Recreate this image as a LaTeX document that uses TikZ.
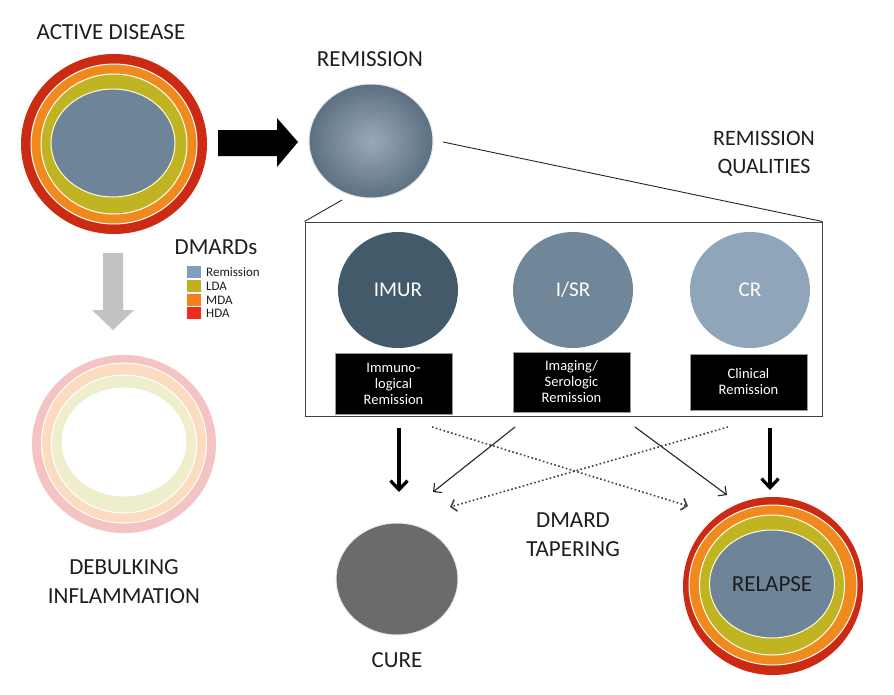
\documentclass[tikz,border=0pt]{standalone}
\usepackage{fontspec}
\setmainfont{Carlito}
\usetikzlibrary{shapes.geometric,arrows.meta}
\definecolor{hdared}{HTML}{CC2A12}
\definecolor{mdaor}{HTML}{F08A1E}
\definecolor{ldaol}{HTML}{C0B423}
\definecolor{remblue}{HTML}{6D8499}
\definecolor{imurc}{HTML}{435A6B}
\definecolor{isrc}{HTML}{6F8799}
\definecolor{crc}{HTML}{8FA6BA}
\definecolor{curec}{HTML}{6B6B6B}
\definecolor{legrem}{HTML}{7F9FBF}
\definecolor{legl}{HTML}{C0B020}
\definecolor{legm}{HTML}{F58020}
\definecolor{legh}{HTML}{EE2A1A}
\definecolor{dpink}{HTML}{F4C4C4}
\definecolor{dpeach}{HTML}{FCDCC0}
\definecolor{dyel}{HTML}{EEEECC}
\definecolor{txt}{HTML}{1E1E1E}
\definecolor{graya}{HTML}{C2C2C2}
\begin{document}
\begin{tikzpicture}[x=1pt,y=-1pt,
  disc/.style={ellipse,inner sep=0pt,outer sep=0pt},
  ring/.style={disc,draw=white,line width=1pt},
  big/.style={font=\fontsize{23}{29}\selectfont,text=txt,align=center},
  qlabel/.style={fill=black,draw=imurc!60,line width=0.8pt,text=white,align=center,
     inner sep=0pt,font=\fontsize{14.5}{16}\selectfont},
  leg/.style={minimum width=14,minimum height=12,inner sep=0pt},
  legtxt/.style={anchor=west,inner sep=0pt,font=\fontsize{13}{14}\selectfont,text=txt},
  thickarr/.style={line width=3.2pt,-{Straight Barb[length=9pt,width=17pt]}},
  thinarr/.style={line width=1.1pt,black!85,-{Straight Barb[length=6pt,width=12pt]}},
  dotarr/.style={line width=1.6pt,black!75,dash pattern=on 1.6pt off 2.4pt,
     -{Straight Barb[length=5pt,width=12pt]}}]
\useasboundingbox[fill=white] (0,0) rectangle (894,694);

% ACTIVE DISEASE
\node[big] (tad) at (111,32) {ACTIVE DISEASE};
\node[disc,fill=hdared,minimum width=186,minimum height=180] (adR) at (114,144) {};
\node[ring,fill=mdaor,minimum width=166,minimum height=160] (adO) at (114,144) {};
\node[ring,fill=ldaol,minimum width=146,minimum height=140] (adL) at (114,144) {};
\node[ring,fill=remblue,draw=white!85!yellow,minimum width=124,minimum height=108] (adB) at (113,143) {};

% black block arrow
\fill[black] (218,130) -- (277,130) -- (277,118) -- (298,142) -- (277,167) -- (277,156) -- (218,156) -- cycle;

% REMISSION
\node[big] (trem) at (370,59) {REMISSION};
\node[disc,shade,inner color=remblue!70!white,outer color=remblue!85!black,draw=white!80!gray,line width=1pt,
  minimum width=124,minimum height=114] (rem) at (371,141) {};

\node[big,font=\fontsize{22}{28}\selectfont] (tqual) at (764,154) {REMISSION\\QUALITIES};

% qualities box
\node[draw=black!75,line width=1pt,minimum width=517,minimum height=194,inner sep=0pt] (qbox) at (563.5,319) {};
\coordinate (remR) at (443,142);
\coordinate (remB) at (342,200);
\draw[line width=0.9pt,black!85] (remR) -- (qbox.north east);
\draw[line width=0.9pt,black!85] (remB) -- (qbox.north west);

\node[disc,fill=imurc,minimum width=120,minimum height=116,text=white,font=\fontsize{21}{24}\selectfont] (imur) at (398,290) {IMUR};
\node[disc,fill=isrc,minimum width=120,minimum height=116,text=white,font=\fontsize{21}{24}\selectfont] (isr) at (573,290) {I/SR};
\node[disc,fill=crc,minimum width=120,minimum height=116,text=white,font=\fontsize{21}{24}\selectfont] (cr) at (750,290) {CR};

\node[qlabel,minimum width=117,minimum height=61] (limur) at (393.5,383.5) {Immuno-\\logical\\Remission};
\node[qlabel,minimum width=117,minimum height=60] (lisr) at (571.5,382) {Imaging/\\Serologic\\Remission};
\node[qlabel,minimum width=117,minimum height=56] (lcr) at (748.5,382) {Clinical\\Remission};

% DMARDs legend
\node[big] (tdm) at (216,247) {DMARDs};
\node[leg,fill=legrem] (l1) at (194,272) {};
\node[leg,fill=legl] (l2) at (194,286) {};
\node[leg,fill=legm] (l3) at (194,300) {};
\node[leg,fill=legh] (l4) at (194,313) {};
\node[legtxt] (t1) at (206,272) {Remission};
\node[legtxt] (t2) at (206,286) {LDA};
\node[legtxt] (t3) at (206,300) {MDA};
\node[legtxt] (t4) at (206,313) {HDA};

% gray arrow
\fill[graya] (103,253) -- (123,253) -- (123,310) -- (134,310) -- (113,330) -- (92,310) -- (103,310) -- cycle;

% DEBULKING
\node[disc,fill=dpink,minimum width=184,minimum height=178] (dbP) at (124,444) {};
\node[ring,fill=dpeach,minimum width=165,minimum height=160] (dbO) at (124,443) {};
\node[ring,fill=dyel,minimum width=145,minimum height=138] (dbL) at (124,444) {};
\node[disc,fill=white,minimum width=125,minimum height=109] (dbW) at (124,442) {};
\node[big] (tdb) at (124,582) {DEBULKING\\INFLAMMATION};

% CURE
\node[disc,fill=curec,draw=white!85!gray,line width=1pt,minimum width=122,minimum height=112] (cure) at (397,579) {};
\node[big] (tcure) at (397,660) {CURE};

% RELAPSE
\node[disc,fill=hdared,minimum width=180,minimum height=178] (rlR) at (773,586) {};
\node[ring,fill=mdaor,minimum width=168,minimum height=160] (rlO) at (773,585) {};
\node[ring,fill=ldaol,minimum width=145,minimum height=140] (rlL) at (772,585) {};
\node[ring,fill=remblue,draw=white!85!yellow,minimum width=125,minimum height=108,big] (rlB) at (772,584) {RELAPSE};

\node[big] (ttap) at (573,535) {DMARD\\TAPERING};

% connectors
\coordinate (a1s) at (399,428); \coordinate (a1e) at (399,492);
\coordinate (a2s) at (770,428); \coordinate (a2e) at (770,490);
\draw[thickarr] (a1s) -- (a1e);
\draw[thickarr] (a2s) -- (a2e);
\coordinate (b1s) at (515,427); \coordinate (b1e) at (433,492);
\coordinate (b2s) at (635,427); \coordinate (b2e) at (727,495);
\draw[thinarr] (b1s) -- (b1e);
\draw[thinarr] (b2s) -- (b2e);
\coordinate (c1s) at (432,427); \coordinate (c1e) at (688,506);
\coordinate (c2s) at (728,427); \coordinate (c2e) at (450,507);
\draw[dotarr] (c1s) -- (c1e);
\draw[dotarr] (c2s) -- (c2e);
\end{tikzpicture}
\end{document}
